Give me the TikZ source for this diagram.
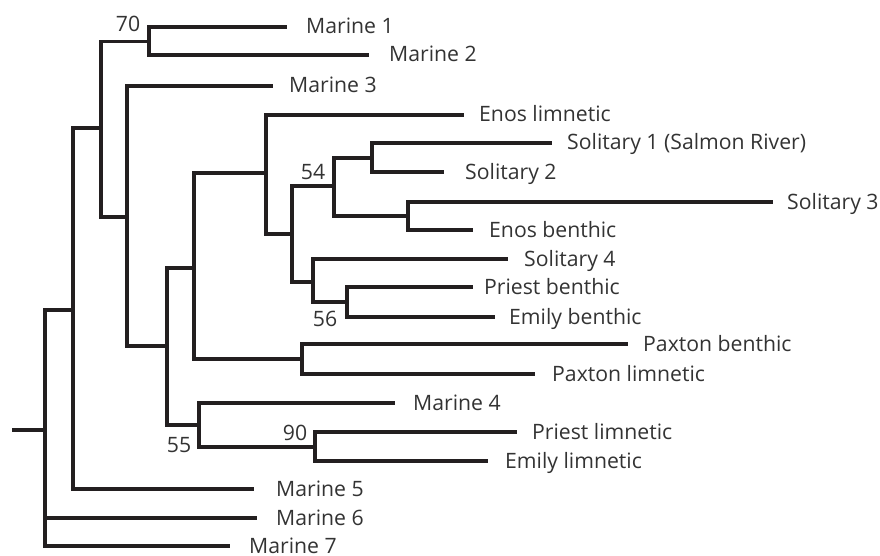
\documentclass[tikz,border=0pt]{standalone}
\usepackage{fontspec}
\setmainfont{Open Sans}
\definecolor{linec}{HTML}{231F20}
\definecolor{textc}{HTML}{333333}
\begin{document}
\begin{tikzpicture}[x=1pt,y=-1pt,
  branch/.style={draw=linec,line width=3.2pt,line join=miter},
  leaf/.style={anchor=base west,inner sep=0pt,text=textc,font=\fontsize{21.2}{25}\selectfont},
  boot/.style={anchor=base,inner sep=0pt,text=textc,font=\fontsize{21.2}{25}\selectfont}]
\useasboundingbox (0,0) rectangle (880,556);
% internal nodes
\coordinate (r0) at (12,430);
\coordinate (R) at (45,430);
\coordinate (A) at (73,310);
\coordinate (B) at (101,128);
\coordinate (N70) at (149,41.5);
\coordinate (C) at (127,217);
\coordinate (D) at (167,346);
\coordinate (E) at (194,268);
\coordinate (F) at (266,173);
\coordinate (G) at (292,234);
\coordinate (N54) at (334,186);
\coordinate (I) at (372,158);
\coordinate (J) at (408,216);
\coordinate (H) at (313,282);
\coordinate (N56) at (347,302);
\coordinate (Pax) at (302,359);
\coordinate (N55) at (199,425);
\coordinate (N90) at (315,447);
% leaf ends
\coordinate (e1) at (287,27);
\coordinate (e2) at (369,55);
\coordinate (e3) at (273,86);
\coordinate (eEl) at (464,115);
\coordinate (eS1) at (552,143);
\coordinate (eS2) at (444,172);
\coordinate (eS3) at (773,202);
\coordinate (eEb) at (473,230);
\coordinate (eS4) at (508,259);
\coordinate (ePb) at (473,287);
\coordinate (eEmb) at (495,317);
\coordinate (ePxb) at (628,344);
\coordinate (ePxl) at (535,374);
\coordinate (e4) at (395,403);
\coordinate (ePl) at (517,432);
\coordinate (eEml) at (488,461);
\coordinate (e5) at (254,489);
\coordinate (e6) at (257,518);
\coordinate (e7) at (230,546);
% branches
\draw[branch] (r0) -- (R);
\draw[branch] (R) |- (A);
\draw[branch] (R) |- (e6);
\draw[branch] (R) |- (e7);
\draw[branch] (A) |- (B);
\draw[branch] (A) |- (e5);
\draw[branch] (B) |- (N70);
\draw[branch] (B) |- (C);
\draw[branch] (N70) |- (e1);
\draw[branch] (N70) |- (e2);
\draw[branch] (C) |- (e3);
\draw[branch] (C) |- (D);
\draw[branch] (D) |- (E);
\draw[branch] (D) |- (N55);
\draw[branch] (E) |- (F);
\draw[branch] (E) |- (Pax);
\draw[branch] (F) |- (eEl);
\draw[branch] (F) |- (G);
\draw[branch] (G) |- (N54);
\draw[branch] (G) |- (H);
\draw[branch] (N54) |- (I);
\draw[branch] (N54) |- (J);
\draw[branch] (I) |- (eS1);
\draw[branch] (I) |- (eS2);
\draw[branch] (J) |- (eS3);
\draw[branch] (J) |- (eEb);
\draw[branch] (H) |- (eS4);
\draw[branch] (H) |- (N56);
\draw[branch] (N56) |- (ePb);
\draw[branch] (N56) |- (eEmb);
\draw[branch] (Pax) |- (ePxb);
\draw[branch] (Pax) |- (ePxl);
\draw[branch] (N55) |- (e4);
\draw[branch] (N55) |- (N90);
\draw[branch] (N90) |- (ePl);
\draw[branch] (N90) |- (eEml);
% leaf labels
\node[leaf] (m1) at (306,34) {Marine 1};
\node[leaf] (m2) at (389,62) {Marine 2};
\node[leaf] (m3) at (289,93) {Marine 3};
\node[leaf] (el) at (479,122) {Enos limnetic};
\node[leaf] (s1) at (567,150) {Solitary 1 (Salmon River)};
\node[leaf] (s2) at (465,179) {Solitary 2};
\node[leaf] (s3) at (787,209) {Solitary 3};
\node[leaf] (eb) at (489,237) {Enos benthic};
\node[leaf] (s4) at (524,266) {Solitary 4};
\node[leaf] (pb) at (484,294) {Priest benthic};
\node[leaf] (emb) at (509,324) {Emily benthic};
\node[leaf] (pxb) at (643,351) {Paxton benthic};
\node[leaf] (pxl) at (552,381) {Paxton limnetic};
\node[leaf] (m4) at (413,410) {Marine 4};
\node[leaf] (pl) at (532,439) {Priest limnetic};
\node[leaf] (eml) at (505,468) {Emily limnetic};
\node[leaf] (m5) at (276,496) {Marine 5};
\node[leaf] (m6) at (276,525) {Marine 6};
\node[leaf] (m7) at (249,553) {Marine 7};
% bootstrap values
\node[boot] (b70) at (128,32) {70};
\node[boot] (b54) at (313,179) {54};
\node[boot] (b56) at (325,326) {56};
\node[boot] (b55) at (179,452) {55};
\node[boot] (b90) at (295,440) {90};
\end{tikzpicture}
\end{document}
